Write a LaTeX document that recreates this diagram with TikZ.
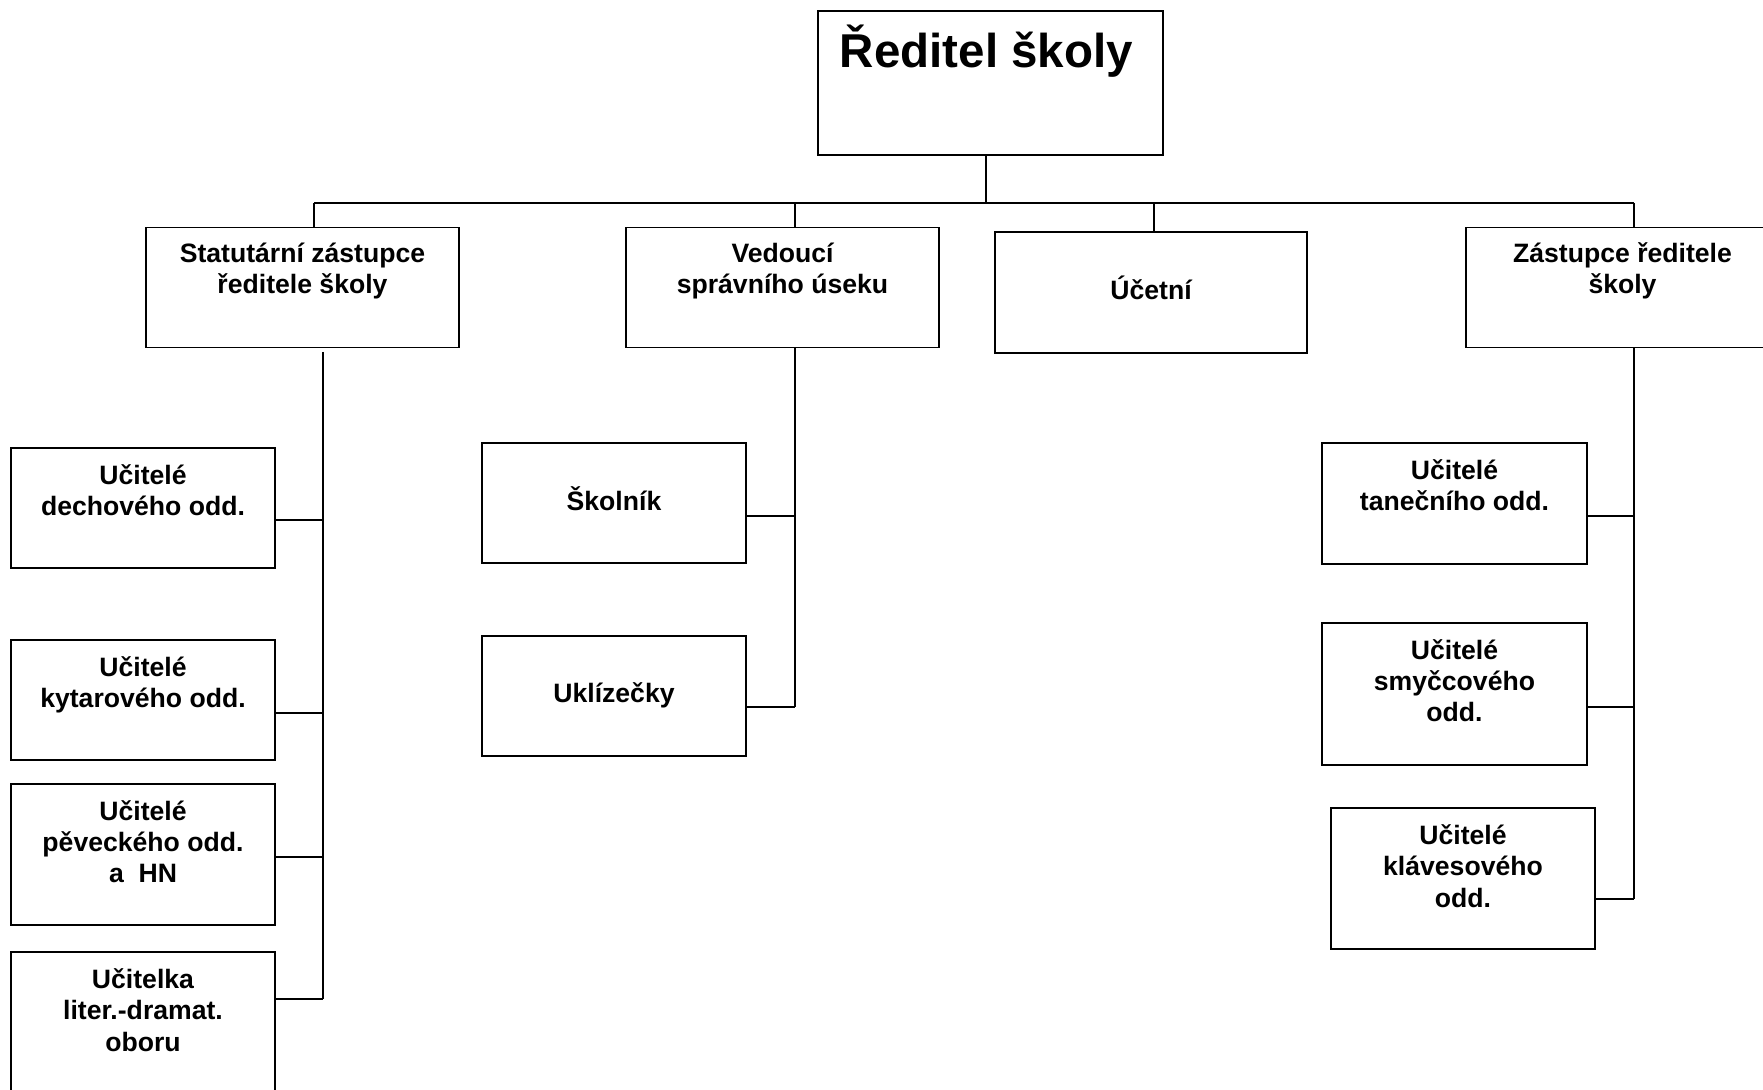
\documentclass[tikz,border=0pt]{standalone}
\usepackage{fontspec}
\setmainfont{Liberation Sans}
\usetikzlibrary{calc}

\newcommand\vyska{\rule{0pt}{1em}}
\newcommand\popisfont{\fontsize{13.3pt}{15.6pt}\selectfont\bfseries}

\tikzset{
  utvar/.style={draw, line width=0.8pt, inner sep=0pt,
    minimum width=132pt, minimum height=60pt},
  vedeni/.style={utvar, minimum width=156.5pt},
  popis/.style={align=center, inner sep=0pt, anchor=north, font=\popisfont},
  spoj/.style={line width=0.8pt}
}

\begin{document}
\begin{tikzpicture}[x=0.5pt,y=-0.5pt]
    \useasboundingbox (0,0) rectangle (1763,1090);
    \clip (0,0) rectangle (1763,1090);

    % reditel
    \node[utvar, minimum width=172.5pt, minimum height=72pt] (root) at (990.5,83) {};
    \node[inner sep=0pt, anchor=base, font=\fontsize{23.75pt}{28pt}\selectfont\bfseries]
      (titul) at ([xshift=-2pt,yshift=-28.5pt]root.north) {Ředitel školy};

    % druha uroven
    \node[vedeni] (stat) at (302.5,287.5) {};
    \node[vedeni] (ved)  at (782.5,287.5) {};
    \node[vedeni, minimum width=156pt, minimum height=60.5pt] (ucet) at (1151,292.5) {};
    \node[vedeni] (zast) at (1622.5,287.5) {};
    \node[popis] (stat-t) at ([yshift=-4.4pt]stat.north) {\vyska Statutární zástupce\\ředitele školy};
    \node[popis] (ved-t)  at ([yshift=-4.4pt]ved.north) {\vyska Vedoucí\\správního úseku};
    \node[popis] (ucet-t) at ([yshift=-20.5pt]ucet.north) {\vyska Účetní};
    \node[popis] (zast-t) at ([yshift=-4.4pt]zast.north) {\vyska Zástupce ředitele\\školy};

    % ucitele vlevo
    \node[utvar] (dech) at (143,508) {};
    \node[utvar] (kyt)  at (143,700) {};
    \node[utvar, minimum height=70.5pt] (pev) at (143,854.5) {};
    \node[utvar, minimum height=74pt] (lit) at (143,1026) {};
    \node[popis] (dech-t) at ([yshift=-5.2pt]dech.north) {\vyska Učitelé\\dechového odd.};
    \node[popis] (kyt-t)  at ([yshift=-5.2pt]kyt.north) {\vyska Učitelé\\kytarového odd.};
    \node[popis] (pev-t)  at ([yshift=-5.2pt]pev.north) {\vyska Učitelé\\pěveckého odd.\\a\ \ HN};
    \node[popis] (lit-t)  at ([yshift=-5.2pt]lit.north) {\vyska Učitelka\\liter.-dramat.\\oboru};

    % spravni usek
    \node[utvar] (skol) at (614,503) {};
    \node[utvar] (ukl)  at (614,696) {};
    \node[popis] (skol-t) at ([yshift=-20.7pt]skol.north) {\vyska Školník};
    \node[popis] (ukl-t)  at ([yshift=-20.4pt]ukl.north) {\vyska Uklízečky};

    % ucitele vpravo
    \node[utvar, minimum width=132.5pt, minimum height=60.5pt] (tan) at (1454.5,503.5) {};
    \node[utvar, minimum width=132.5pt, minimum height=71pt] (smy) at (1454.5,694) {};
    \node[utvar, minimum height=70.5pt] (klav) at (1463,878.5) {};
    \node[popis] (tan-t)  at ([yshift=-5.2pt]tan.north) {\vyska Učitelé\\tanečního odd.};
    \node[popis] (smy-t)  at ([yshift=-5.2pt]smy.north) {\vyska Učitelé\\smyčcového\\odd.};
    \node[popis] (klav-t) at ([yshift=-5.2pt]klav.north) {\vyska Učitelé\\klávesového\\odd.};

    % sbernice
    \coordinate (bus) at (986,203);
    \coordinate (d1) at (314,203);
    \coordinate (d2) at (795,203);
    \coordinate (d3) at (1154,203);
    \coordinate (d4) at (1634,203);
    \draw[spoj] (root.south -| bus) -- (bus);
    \draw[spoj] (d1) -- (d4);
    \draw[spoj] (d1) -- (d1 |- stat.north);
    \draw[spoj] (d2) -- (d2 |- ved.north);
    \draw[spoj] (d3) -- (d3 |- ucet.north);
    \draw[spoj] (d4) -- (d4 |- zast.north);

    % vetev statutarniho zastupce
    \coordinate (s1) at (323,352);
    \coordinate (j1) at (323,520);
    \coordinate (j2) at (323,713);
    \coordinate (j3) at (323,857);
    \coordinate (j4) at (323,999);
    \draw[spoj] (s1) -- (j4);
    \draw[spoj] (j1 -| dech.east) -- (j1);
    \draw[spoj] (j2 -| kyt.east) -- (j2);
    \draw[spoj] (j3 -| pev.east) -- (j3);
    \draw[spoj] (j4 -| lit.east) -- (j4);

    % vetev vedouciho
    \coordinate (k1) at (795,516);
    \coordinate (k2) at (795,707);
    \draw[spoj] (k1 |- ved.south) -- (k2);
    \draw[spoj] (k1 -| skol.east) -- (k1);
    \draw[spoj] (k2 -| ukl.east) -- (k2);

    % vetev zastupce
    \coordinate (z1) at (1634,516);
    \coordinate (z2) at (1634,707);
    \coordinate (z3) at (1634,899);
    \draw[spoj] (z1 |- zast.south) -- (z3);
    \draw[spoj] (z1 -| tan.east) -- (z1);
    \draw[spoj] (z2 -| smy.east) -- (z2);
    \draw[spoj] (z3 -| klav.east) -- (z3);
\end{tikzpicture}
\end{document}
